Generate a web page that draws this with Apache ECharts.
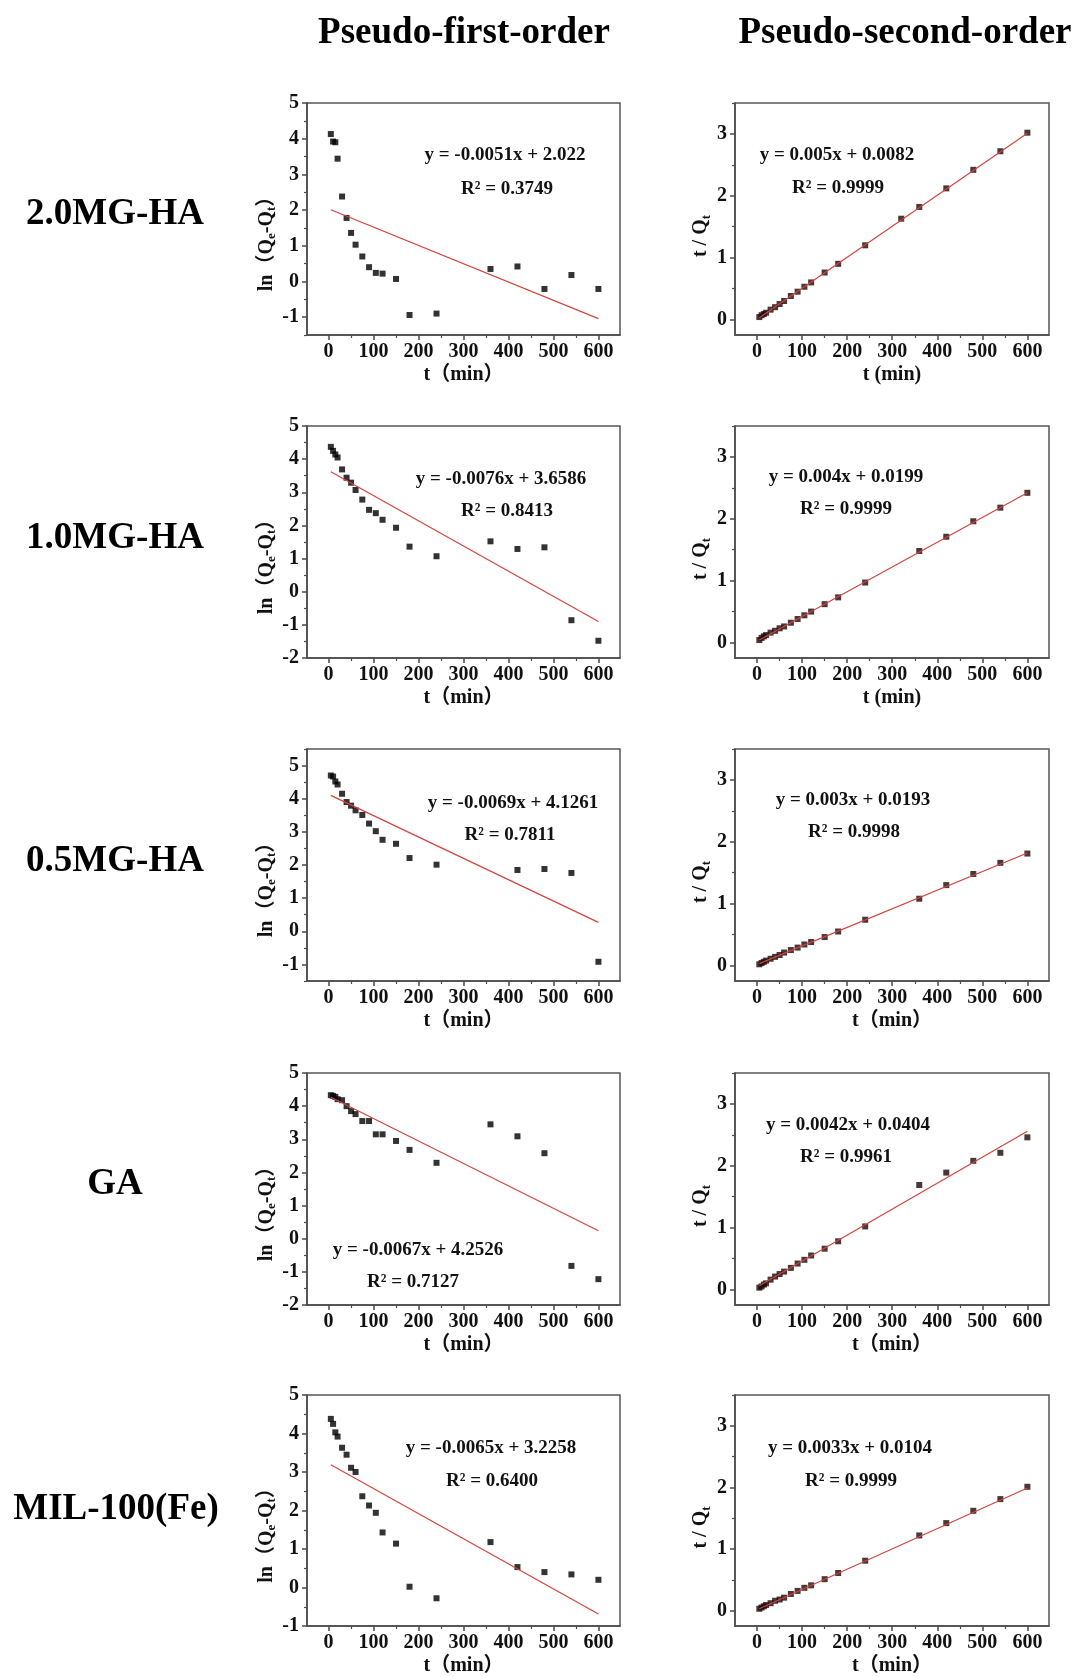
<!DOCTYPE html>
<html><head><meta charset="utf-8">
<script src="https://cdn.jsdelivr.net/npm/echarts@6/dist/echarts.min.js"></script>
<style>html,body{margin:0;padding:0;background:#fff}#c{width:1076px;height:1677px}</style>
</head><body><div id="c"></div>
<script>
// ---------- data ----------
const colTitles = ['Pseudo-first-order', 'Pseudo-second-order'];
const rowLabels = ['2.0MG-HA', '1.0MG-HA', '0.5MG-HA', 'GA', 'MIL-100(Fe)'];

const time = [5,10,15,20,30,40,50,60,75,90,105,120,150,180,240,360,420,480,540,600];
const time05First = [5,10,15,20,30,40,50,60,75,90,105,120,150,180,240,420,480,540,600];
const time20Second = [5,10,15,20,30,40,50,60,75,90,105,120,150,180,240,320,360,420,480,540,600];

// pseudo-first-order ln(Qe-Qt)
const pfo20 = [4.13,3.92,3.90,3.44,2.38,1.78,1.36,1.03,0.70,0.40,0.24,0.22,0.07,-0.94,-0.90,0.35,0.42,-0.21,0.18,-0.21];
const pfo10 = [4.37,4.25,4.14,4.05,3.69,3.44,3.29,3.07,2.78,2.47,2.37,2.17,1.93,1.36,1.07,1.52,1.29,1.34,-0.86,-1.48];
const pfo05 = [4.70,4.67,4.52,4.43,4.15,3.90,3.79,3.65,3.51,3.25,3.02,2.76,2.64,2.21,2.01,1.85,1.88,1.76,-0.92];
const pfoGA = [4.33,4.31,4.28,4.21,4.18,4.00,3.85,3.76,3.55,3.55,3.15,3.15,2.95,2.68,2.29,3.45,3.09,2.58,-0.82,-1.22];
const pfoMIL = [4.38,4.25,4.03,3.92,3.63,3.45,3.11,3.00,2.37,2.13,1.94,1.43,1.14,0.02,-0.28,1.18,0.53,0.40,0.34,0.20];

// pseudo-second-order t/Qt
const pso20 = [0.04,0.07,0.09,0.11,0.16,0.20,0.25,0.30,0.38,0.45,0.53,0.60,0.76,0.90,1.20,1.63,1.82,2.12,2.42,2.72,3.02];
const pso10 = [0.04,0.075,0.10,0.12,0.16,0.19,0.23,0.26,0.32,0.38,0.44,0.50,0.62,0.73,0.97,1.48,1.71,1.96,2.18,2.42];
const pso05 = [0.02,0.04,0.06,0.08,0.11,0.14,0.17,0.21,0.25,0.29,0.34,0.38,0.46,0.55,0.74,1.08,1.30,1.48,1.66,1.81];
const psoGA = [0.03,0.05,0.08,0.10,0.16,0.21,0.25,0.29,0.35,0.42,0.48,0.55,0.66,0.78,1.02,1.69,1.89,2.08,2.21,2.46];
const psoMIL = [0.03,0.05,0.07,0.09,0.12,0.16,0.18,0.21,0.27,0.32,0.37,0.41,0.51,0.61,0.81,1.22,1.42,1.62,1.81,2.01];

// fitted lines (end points)
const pfoFit20 = [[5,2.01],[600,-1.04]];
const pfoFit10 = [[5,3.62],[600,-0.90]];
const pfoFit05 = [[5,4.10],[600,0.27]];
const pfoFitGA = [[5,4.27],[600,0.24]];
const pfoFitMIL = [[5,3.19],[600,-0.69]];
const psoFit20 = [[5,0.03],[600,3.01]];
const psoFit10 = [[5,0.04],[600,2.42]];
const psoFit05 = [[5,0.03],[600,1.82]];
const psoFitGA = [[5,0.06],[600,2.56]];
const psoFitMIL = [[5,0.03],[600,1.99]];

const eqTexts = [
  ['y = -0.0051x + 2.022', 'R² = 0.3749'],
  ['y = 0.005x + 0.0082', 'R² = 0.9999'],
  ['y = -0.0076x + 3.6586', 'R² = 0.8413'],
  ['y = 0.004x + 0.0199', 'R² = 0.9999'],
  ['y = -0.0069x + 4.1261', 'R² = 0.7811'],
  ['y = 0.003x + 0.0193', 'R² = 0.9998'],
  ['y = -0.0067x + 4.2526', 'R² = 0.7127'],
  ['y = 0.0042x + 0.0404', 'R² = 0.9961'],
  ['y = -0.0065x + 3.2258', 'R² = 0.6400'],
  ['y = 0.0033x + 0.0104', 'R² = 0.9999']
];

// tick labels
const xTickValues = [0,100,200,300,400,500,600];
const xMinorValues = [50,150,250,350,450,550];
const pfoYTicks = [[-1,0,1,2,3,4,5],[-2,-1,0,1,2,3,4,5],[-1,0,1,2,3,4,5],[-2,-1,0,1,2,3,4,5],[-1,0,1,2,3,4,5]];
const pfoYMinor = [[-1.5,-0.5,0.5,1.5,2.5,3.5,4.5],[-1.5,-0.5,0.5,1.5,2.5,3.5,4.5],[-1.5,-0.5,0.5,1.5,2.5,3.5,4.5,5.5],[-1.5,-0.5,0.5,1.5,2.5,3.5,4.5],[-0.5,0.5,1.5,2.5,3.5,4.5]];
const pfoYRange = [[-1.5,5],[-2,5],[-1.5,5.5],[-2,5],[-1,5]];
const psoYTicks = [0,1,2,3];
const psoYMinor = [0.5,1.5,2.5,3.5];
const psoYRange = [-0.25,3.5];

const xNames = [['t（min）','t (min)'],['t（min）','t (min)'],['t（min）','t（min）'],['t（min）','t（min）'],['t（min）','t（min）']];

// ---------- layout ----------
const rowTop = [103, 426, 749, 1073, 1395];
const gridH = 232;
const colLeft = [307, 735];
const colW = [313, 314];
const xRange = [[-48, 648], [-49, 648]];
const eqPos = [
  [[505,155],[507,189]], [[837,155],[838,188]],
  [[501,479],[507,511]], [[846,477],[846,509]],
  [[513,803],[510,835]], [[853,800],[854,832]],
  [[418,1250],[413,1282]], [[848,1125],[846,1157]],
  [[491,1448],[492,1481]], [[850,1448],[851,1481]]
];
const rowLabelPos = [[115,214],[115,538],[115,861],[115,1184],[116,1509]];
const titlePos = [[464,33],[905,33]];

const FONT = '"Liberation Serif", "Times New Roman", "Noto Sans CJK SC", serif';
const AX = '#4a4a4a';
const RED = '#d4443e';

const pfoSets = [[time,pfo20,pfoFit20],[time,pfo10,pfoFit10],[time05First,pfo05,pfoFit05],[time,pfoGA,pfoFitGA],[time,pfoMIL,pfoFitMIL]];
const psoSets = [[time20Second,pso20,psoFit20],[time,pso10,psoFit10],[time,pso05,psoFit05],[time,psoGA,psoFitGA],[time,psoMIL,psoFitMIL]];

const grids = [], xAxes = [], yAxes = [], series = [], graphics = [];
const nameRich = {
  n: {fontFamily: FONT, fontWeight: 'bold', fontSize: 20, lineHeight: 24, color: '#111'},
  s: {fontFamily: FONT, fontWeight: 'bold', fontSize: 13, lineHeight: 13, verticalAlign: 'bottom', color: '#111'}
};

for (let r = 0; r < 5; r++) {
  for (let c = 0; c < 2; c++) {
    const p = r * 2 + c;
    grids.push({left: colLeft[c], top: rowTop[r], width: colW[c], height: gridH,
      show: true, borderColor: '#555', borderWidth: 1.5, backgroundColor: 'transparent'});
    const yMin = c === 0 ? pfoYRange[r][0] : psoYRange[0];
    const yMax = c === 0 ? pfoYRange[r][1] : psoYRange[1];
    const yT = c === 0 ? pfoYTicks[r] : psoYTicks;
    const yM = c === 0 ? pfoYMinor[r] : psoYMinor;
    // main x
    xAxes.push({type: 'value', gridIndex: p, min: xRange[c][0], max: xRange[c][1], position: 'bottom',
      axisLine: {show: true, onZero: false, lineStyle: {color: AX, width: 1.5}},
      axisTick: {show: true, inside: false, length: 5, customValues: xTickValues, lineStyle: {color: AX, width: 1.5}},
      axisLabel: {show: true, customValues: xTickValues, margin: 7, color: '#111', fontFamily: FONT, fontWeight: 'bold', fontSize: 20},
      splitLine: {show: false},
      name: xNames[r][c], nameLocation: 'middle', nameGap: 30,
      nameTextStyle: {fontFamily: FONT, fontWeight: 'bold', fontSize: 20, lineHeight: 20, color: '#111'}
    });
    // minor x
    xAxes.push({type: 'value', gridIndex: p, min: xRange[c][0], max: xRange[c][1], position: 'bottom',
      axisLine: {show: false, onZero: false},
      axisTick: {show: true, inside: false, length: 3, customValues: xMinorValues, lineStyle: {color: AX, width: 1.2}},
      axisLabel: {show: false}, splitLine: {show: false}
    });
    // main y
    yAxes.push({type: 'value', gridIndex: p, min: yMin, max: yMax, position: 'left',
      axisLine: {show: true, onZero: false, lineStyle: {color: AX, width: 1.5}},
      axisTick: {show: true, inside: false, length: 5, customValues: yT, lineStyle: {color: AX, width: 1.5}},
      axisLabel: {show: true, customValues: yT, margin: 8, color: '#111', fontFamily: FONT, fontWeight: 'bold', fontSize: 20},
      splitLine: {show: false},
      name: c === 0 ? '{n|ln（Q}{s|e}{n|-Q}{s|t}{n|）}' : '{n|t / Q}{s|t}',
      nameLocation: 'middle', nameGap: c === 0 ? 28 : 22,
      nameTextStyle: {rich: nameRich, padding: [0, c === 0 ? 40 : 34, 0, 0]}
    });
    // minor y
    yAxes.push({type: 'value', gridIndex: p, min: yMin, max: yMax, position: 'left',
      axisLine: {show: false, onZero: false},
      axisTick: {show: true, inside: false, length: 3, customValues: yM, lineStyle: {color: AX, width: 1.2}},
      axisLabel: {show: false}, splitLine: {show: false}
    });
    const set = c === 0 ? pfoSets[r] : psoSets[r];
    series.push({type: 'scatter', xAxisIndex: 2 * p, yAxisIndex: 2 * p,
      symbol: 'rect', symbolSize: 6, itemStyle: {color: c === 0 ? '#000' : '#1a0606'},
      data: set[0].map((t, i) => [t, set[1][i]]), z: 2, silent: true});
    series.push({type: 'line', xAxisIndex: 2 * p, yAxisIndex: 2 * p,
      symbol: 'none', lineStyle: {color: RED, width: 1.2}, data: set[2], z: 3, silent: true});
    // equation texts
    for (let k = 0; k < 2; k++) {
      graphics.push({type: 'text', x: eqPos[p][k][0], y: eqPos[p][k][1], z: 10,
        style: {text: eqTexts[p][k], font: 'bold 19px ' + FONT, fill: '#111',
          align: 'center', verticalAlign: 'middle', textAlign: 'center', textVerticalAlign: 'middle'}});
    }
  }
  graphics.push({type: 'text', x: rowLabelPos[r][0], y: rowLabelPos[r][1],
    style: {text: rowLabels[r], font: 'bold 37px ' + FONT, fill: '#000',
      align: 'center', verticalAlign: 'middle', textAlign: 'center', textVerticalAlign: 'middle'}});
}
for (let c = 0; c < 2; c++) {
  graphics.push({type: 'text', x: titlePos[c][0], y: titlePos[c][1],
    style: {text: colTitles[c], font: 'bold 37px ' + FONT, fill: '#000',
      align: 'center', verticalAlign: 'middle', textAlign: 'center', textVerticalAlign: 'middle'}});
}

const chart = echarts.init(document.getElementById('c'), null, {renderer: 'canvas'});
chart.setOption({
  animation: false,
  backgroundColor: '#fff',
  grid: grids, xAxis: xAxes, yAxis: yAxes, series: series, graphic: graphics
});
</script>
</body></html>
